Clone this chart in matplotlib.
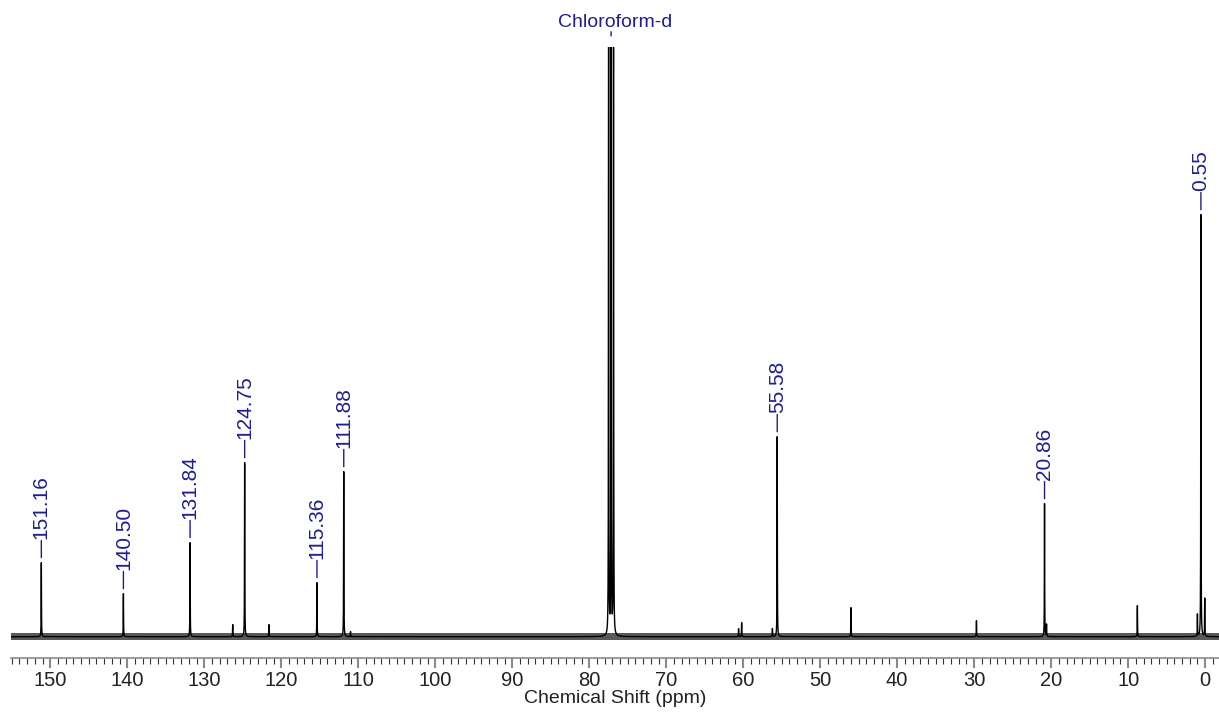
import matplotlib.pyplot as plt
import numpy as np

plt.rcParams['font.family'] = ['Liberation Sans', 'DejaVu Sans']

# picos marcados (ppm) y alturas (unidades arbitrarias)
pico_ppm = [151.16, 140.50, 131.84, 124.75, 115.36, 111.88, 55.58, 20.86, 0.55]
pico_alto = [74, 43, 94, 174, 54, 165, 200, 133, 422]

# picos pequeños sin etiqueta
menor_ppm = [126.3, 121.6, 111.0, 60.6, 60.2, 56.2, 46.0, 29.7, 20.6, 8.8, 1.0, 0.05]
menor_alto = [12, 12, 5, 8, 14, 8, 29, 16, 12, 31, 22, 38]

# triplete del disolvente
cdcl3_ppm = [77.48, 77.16, 76.84]
cdcl3_alto = [700, 700, 700]

azul = '#1e1e8e'

"""Espectro como suma de lorentzianas"""
ppm = np.arange(-2.0, 155.5, 0.005)
hw = 0.02
señal = np.zeros_like(ppm)
for p, h in zip(pico_ppm + menor_ppm + cdcl3_ppm, pico_alto + menor_alto + cdcl3_alto):
    señal += h * hw**2 / ((ppm - p)**2 + hw**2)

fig = plt.figure(figsize=(12.19, 7.13), dpi=100)
ax = fig.add_axes([11/1219, 55/713, 1208/1219, 611/713])
ax.axhspan(-3.4, 3.4, color='0.35', lw=0, zorder=1)
ax.plot(ppm, señal, color='black', lw=1.0, zorder=2)
ax.set_xlim(155.1, -1.8)
ax.set_ylim(-21.3, 589.7)

for s in ['left', 'right', 'top']:
    ax.spines[s].set_visible(False)
ax.spines['bottom'].set_color('#8a8a8a')
ax.spines['bottom'].set_linewidth(1.2)
ax.set_yticks([])
ax.set_xticks(np.arange(0, 151, 10))
ax.set_xticks(np.arange(-1, 156, 1), minor=True)
ax.tick_params(axis='x', which='major', length=7.5, width=1.5, color='#8a8a8a',
               labelsize=14.5, labelcolor='#222222', pad=2)
ax.tick_params(axis='x', which='minor', length=4, width=0.8, color='#333333')
ax.set_xlabel('Chemical Shift (ppm)', fontsize=14, color='#222222', labelpad=0)

"""Etiquetas de picos"""
for p, h in zip(pico_ppm, pico_alto):
    ax.annotate('', xy=(p, h), xytext=(0, 16), textcoords='offset points',
                arrowprops=dict(arrowstyle='-', color=azul, lw=1, shrinkA=0, shrinkB=3.6))
    ax.annotate(f'{p:.2f}', xy=(p, h), xytext=(0, 17), textcoords='offset points',
                rotation=90, ha='center', va='bottom', color=azul, fontsize=15)

ax.annotate('', xy=(cdcl3_ppm[1], 589.7), xytext=(0, 11), textcoords='offset points',
            arrowprops=dict(arrowstyle='-', color=azul, lw=1, shrinkA=0, shrinkB=8),
            annotation_clip=False)
ax.annotate('Chloroform-d', xy=(cdcl3_ppm[1], 589.7), xytext=(3, 14.5), textcoords='offset points',
            ha='center', va='baseline', color=azul, fontsize=14, annotation_clip=False)

fig.savefig('out.png', dpi=100)
